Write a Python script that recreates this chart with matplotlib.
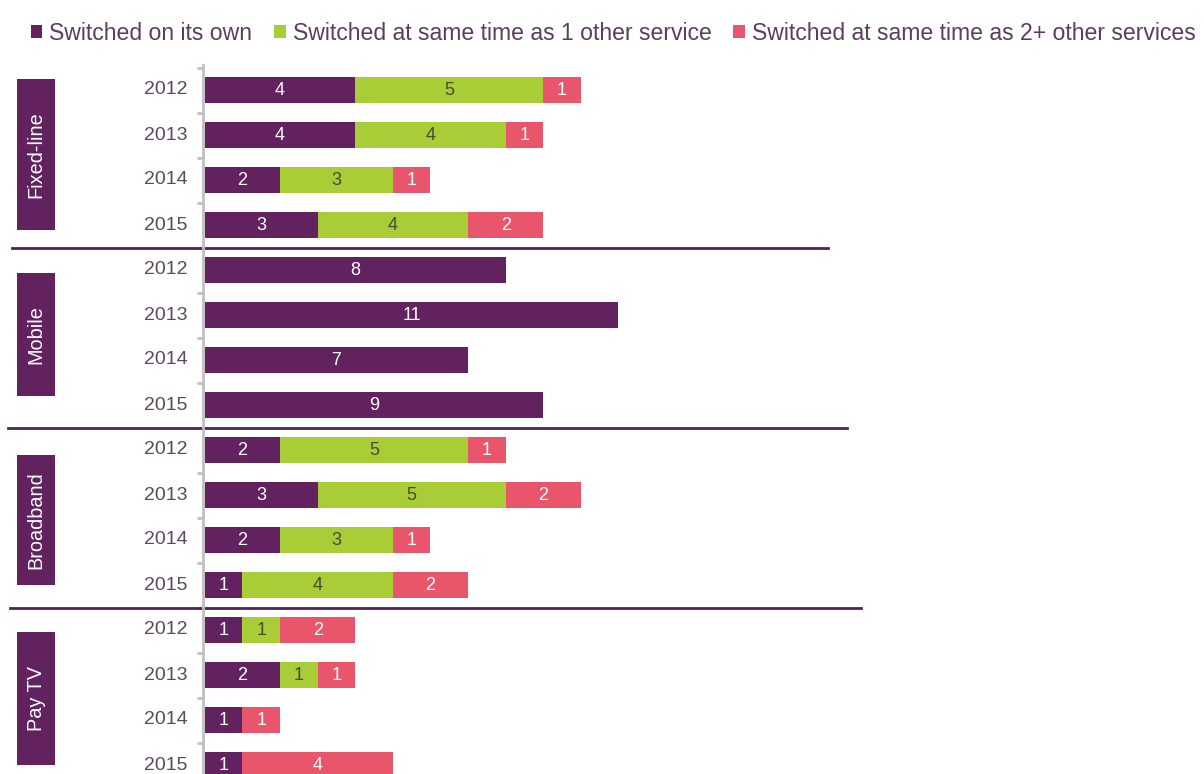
import matplotlib.pyplot as plt
import matplotlib.transforms as mtransforms
from matplotlib.patches import Rectangle, Patch
from matplotlib.lines import Line2D
import numpy as np

plt.rcParams['font.family'] = ['Liberation Sans', 'DejaVu Sans']

# data
services = ['Fixed-line', 'Mobile', 'Broadband', 'Pay TV']
years = ['2012', '2013', '2014', '2015']
own = [4, 4, 2, 3, 8, 11, 7, 9, 2, 3, 2, 1, 1, 2, 1, 1]
one_other = [5, 4, 3, 4, 0, 0, 0, 0, 5, 5, 3, 4, 1, 1, 0, 0]
two_plus = [1, 1, 1, 2, 0, 0, 0, 0, 1, 2, 1, 2, 2, 1, 1, 4]
series_names = ['Switched on its own', 'Switched at same time as 1 other service',
                'Switched at same time as 2+ other services']

c_own = '#62215f'
c_one = '#a9cd37'
c_two = '#e9566c'
txt_col = '#5b3e5e'

W, H = 1204, 774
fig = plt.figure(figsize=(W / 100, H / 100), dpi=100)
px_unit = 37.6
x0 = 203
ax = fig.add_axes([x0 / W, 0, 1 - x0 / W, (H - 65) / H])

n = len(own)
y = np.arange(n)
bh = 0.57
left = np.zeros(n)
for vals, col, tcol in [(own, c_own, 'white'), (one_other, c_one, '#4a4a30'), (two_plus, c_two, 'white')]:
    vals = np.array(vals, dtype=float)
    ax.barh(y, vals, left=left, height=bh, color=col, edgecolor='none')
    for yi, v, l in zip(y, vals, left):
        if v > 0:
            ax.text(l + v / 2, yi + 0.02, f'{int(v)}', ha='center', va='center',
                    color=tcol, fontsize=13)
    left += vals

# axes styling
for s in ['top', 'right', 'bottom']:
    ax.spines[s].set_visible(False)
ax.spines['left'].set_color('#c0c0c0')
ax.spines['left'].set_linewidth(2)
ax.set_xticks([])
ax.set_yticks([])
ax.set_yticks(np.arange(-0.5, n - 0.5, 1), minor=True)
ax.tick_params(axis='y', which='minor', length=4, width=2, color='#c0c0c0', labelleft=False)
ax.set_xlim(-0.05, (W - x0) / px_unit - 0.05)
ax.set_ylim((H - 90) / 45, -25 / 45)

# year labels
for i in range(n):
    ax.text(-0.45, i, years[i % 4], ha='right', va='center', fontsize=14, color='#5a4a5c')

# group boxes and separators
trans = mtransforms.blended_transform_factory(fig.transFigure, ax.transData)
box_spans = [(-0.24, 3.1), (4.07, 6.8), (8.1, 11.0), (12.04, 15.0)]
for name, (y0, y1) in zip(services, box_spans):
    ax.add_patch(Rectangle((17 / W, y0), 38 / W, y1 - y0, transform=trans,
                           facecolor=c_own, edgecolor='none', clip_on=False))
    ax.text(36 / W, (y0 + y1) / 2, name, transform=trans, rotation=90, ha='center',
            va='center', color='white', fontsize=14.3, clip_on=False)

sep_spans = [(3.5, 12, 828), (7.5, 8, 847), (11.5, 10, 861)]
for ys, xa, xb in sep_spans:
    ax.add_line(Line2D([xa / W, xb / W], [ys, ys], transform=trans, color='#4f2552',
                       lw=2, clip_on=False))

# legend
handles = [Patch(facecolor=c, edgecolor='none') for c in [c_own, c_one, c_two]]
leg = fig.legend(handles, series_names, loc='upper left', bbox_to_anchor=(10 / W, 1 - 1 / H),
                 ncol=3, frameon=False, fontsize=16.6, handlelength=0.5, handleheight=0.5,
                 handletextpad=0.3, columnspacing=0.95, labelcolor=txt_col)

fig.savefig('out.png', dpi=100)
